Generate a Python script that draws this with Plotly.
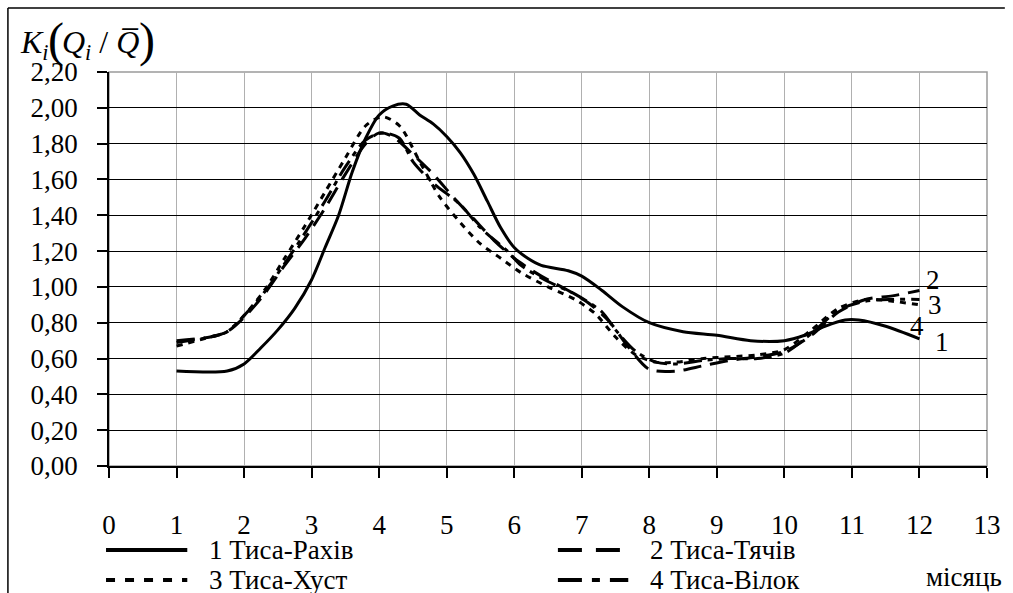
import plotly.graph_objects as go

# ---- data ----
x1 = [1, 1.75, 2.0, 2.25, 2.5, 2.75, 3.0, 3.2, 3.4, 3.6, 3.8, 4.0, 4.2, 4.4, 4.6, 4.8, 5.0, 5.2, 5.4, 5.6,
      5.8, 6.0, 6.2, 6.4, 6.8, 7.0, 7.3, 7.6, 8.0, 8.5, 9.0, 9.5, 10.0, 10.3, 10.6, 10.9, 11.1, 11.5, 12.0]
y1 = [0.53, 0.53, 0.57, 0.66, 0.76, 0.88, 1.04, 1.22, 1.40, 1.64, 1.83, 1.96, 2.01, 2.02, 1.96, 1.91, 1.84, 1.75, 1.63, 1.48,
      1.33, 1.22, 1.16, 1.12, 1.09, 1.06, 0.98, 0.89, 0.80, 0.75, 0.73, 0.70, 0.70, 0.73, 0.78, 0.815, 0.815, 0.78, 0.71]

x2 = [1, 1.5, 1.75, 2.0, 2.3, 2.6, 2.9, 3.2, 3.5, 3.8, 4.0, 4.2, 4.5, 4.8, 5.1, 5.4, 5.7, 6.0, 6.4, 6.8,
      7.1, 7.4, 7.7, 8.0, 8.4, 8.8, 9.2, 9.6, 10.0, 10.4, 10.8, 11.2, 11.6, 12.0]
y2 = [0.70, 0.72, 0.75, 0.83, 0.96, 1.12, 1.27, 1.44, 1.63, 1.80, 1.86, 1.84, 1.74, 1.63, 1.50, 1.38, 1.26, 1.16, 1.06, 0.98,
      0.91, 0.81, 0.66, 0.54, 0.53, 0.56, 0.59, 0.61, 0.64, 0.73, 0.86, 0.93, 0.95, 0.98]

x3 = [1, 1.5, 1.75, 2.0, 2.3, 2.6, 2.9, 3.2, 3.5, 3.8, 4.05, 4.3, 4.6, 4.9, 5.2, 5.5, 5.8, 6.1, 6.5, 6.9,
      7.2, 7.5, 7.8, 8.1, 8.4, 8.8, 9.2, 9.6, 10.0, 10.4, 10.8, 11.2, 11.6, 12.0]
y3 = [0.67, 0.72, 0.75, 0.84, 0.98, 1.16, 1.34, 1.53, 1.72, 1.90, 1.95, 1.90, 1.70, 1.50, 1.36, 1.24, 1.16, 1.08, 1.00, 0.93,
      0.85, 0.72, 0.62, 0.58, 0.58, 0.60, 0.61, 0.62, 0.65, 0.76, 0.88, 0.93, 0.92, 0.90]

x4 = [1, 1.5, 1.75, 2.0, 2.3, 2.6, 2.9, 3.2, 3.5, 3.8, 4.05, 4.3, 4.5, 4.8, 5.2, 5.5, 5.9, 6.1, 6.5, 6.9,
      7.3, 7.5, 7.8, 8.1, 8.4, 8.8, 9.2, 9.6, 10.0, 10.4, 10.8, 11.2, 11.6, 12.0]
y4 = [0.69, 0.72, 0.75, 0.84, 0.97, 1.13, 1.30, 1.48, 1.67, 1.82, 1.86, 1.83, 1.70, 1.58, 1.46, 1.33, 1.20, 1.12, 1.03, 0.96,
      0.86, 0.76, 0.64, 0.58, 0.57, 0.59, 0.60, 0.60, 0.63, 0.74, 0.87, 0.92, 0.93, 0.93]

series_names = ["1 Тиса-Рахів", "2 Тиса-Тячів", "3 Тиса-Хуст", "4 Тиса-Вілок"]
end_labels = ["1", "2", "3", "4"]
end_label_x = [12.33, 12.2, 12.23, 11.97]
end_label_y = [0.69, 1.04, 0.90, 0.78]

x_ticks = list(range(0, 14))
y_ticks = [round(0.2 * i, 2) for i in range(12)]

FONT = "Liberation Serif"
FS = 27

# plot-area pixel geometry (used only to place decorations in paper coords)
W, H = 1013, 593
L, R, T, B = 109, 18, 72, 127
PW, PH = W - L - R, H - T - B


def px(xp):
    return (xp - L) / PW


def py(yp):
    return (H - B - yp) / PH


styles = ["solid", "18px,9px", "6px,6px", "18px,6px,5px,6px"]
legend_dash = ["solid", "24px,14px", "9px,10px", "24px,10px,8px,10px"]

fig = go.Figure()
for xs, ys, nm, dsh in zip([x1, x2, x3, x4], [y1, y2, y3, y4], series_names, styles):
    fig.add_trace(go.Scatter(
        x=xs, y=ys, name=nm, mode="lines",
        line=dict(color="black", width=3, shape="spline", smoothing=0.8, dash=dsh),
        showlegend=False, hoverinfo="x+y+name",
    ))

annotations = []
for lab, lx, ly in zip(end_labels, end_label_x, end_label_y):
    annotations.append(dict(x=lx, y=ly, xref="x", yref="y", text=lab, showarrow=False))

# legend built from annotations + sample lines (two columns, two rows)
leg_pos = [(106, 188, 208, 550), (562, 633, 653, 550), (106, 188, 208, 580), (562, 633, 653, 580)]
shapes = []
for (xa, xb, xt, yy), nm, dsh in zip(leg_pos, series_names, legend_dash):
    shapes.append(dict(type="line", xref="paper", yref="paper", x0=px(xa), x1=px(xb), y0=py(yy), y1=py(yy),
                       line=dict(color="black", width=4, dash=dsh)))
    annotations.append(dict(x=px(xt), y=py(yy), xref="paper", yref="paper", text=nm, showarrow=False,
                            xanchor="left", yanchor="middle"))

annotations.append(dict(x=px(1012), y=py(577), xref="paper", yref="paper", text="місяць", showarrow=False,
                        xanchor="right", yanchor="middle"))

# y-axis title, built from pieces
annotations.append(dict(x=px(17), y=py(44), xref="paper", yref="paper", showarrow=False,
                        xanchor="left", yanchor="middle",
                        text="<i>K</i><sub><i>i</i></sub>",
                        font=dict(family=FONT, size=32, color="black")))
annotations.append(dict(x=px(45), y=py(40), xref="paper", yref="paper", showarrow=False,
                        xanchor="left", yanchor="middle", text="(",
                        font=dict(family=FONT, size=48, color="black")))
annotations.append(dict(x=px(60), y=py(44), xref="paper", yref="paper", showarrow=False,
                        xanchor="left", yanchor="middle",
                        text="<i>Q</i><sub><i>i</i></sub> / <i>Q̅</i>",
                        font=dict(family=FONT, size=32, color="black")))
annotations.append(dict(x=px(137), y=py(40), xref="paper", yref="paper", showarrow=False,
                        xanchor="left", yanchor="middle", text=")",
                        font=dict(family=FONT, size=48, color="black")))

# outer frame of the chart
shapes.append(dict(type="line", xref="paper", yref="paper", x0=px(7), x1=px(1013), y0=py(8), y1=py(8),
                   line=dict(color="black", width=1.5)))
shapes.append(dict(type="line", xref="paper", yref="paper", x0=px(7), x1=px(7), y0=py(8), y1=py(593),
                   line=dict(color="black", width=1.5)))
# grey plot-area border (top/right)
shapes.append(dict(type="rect", xref="x domain", yref="y domain", x0=0, x1=1, y0=0, y1=1,
                   line=dict(color="#9a9a9a", width=1.5), layer="below"))

fig.update_layout(
    width=W, height=H,
    margin=dict(l=L, r=R, t=T, b=B),
    paper_bgcolor="white", plot_bgcolor="white",
    separators=",.",
    font=dict(family=FONT, size=FS, color="black"),
    showlegend=False,
    annotations=annotations,
    shapes=shapes,
    xaxis=dict(range=[0, 13], tickvals=x_ticks, ticktext=[str(v) for v in x_ticks],
               showgrid=True, gridcolor="#b0b0b0", gridwidth=1,
               showline=True, linecolor="black", linewidth=1.5,
               ticks="outside", ticklen=10, tickcolor="black", tickwidth=1.5,
               ticklabelstandoff=24, zeroline=False),
    yaxis=dict(range=[0, 2.2], tickvals=y_ticks,
               ticktext=[f"{v:.2f}".replace(".", ",") for v in y_ticks],
               showgrid=True, gridcolor="black", gridwidth=1,
               showline=True, linecolor="black", linewidth=1.5,
               ticks="outside", ticklen=10, tickcolor="black", tickwidth=1.5,
               ticklabelstandoff=14, zeroline=False),
)

fig.write_html("out.html")
